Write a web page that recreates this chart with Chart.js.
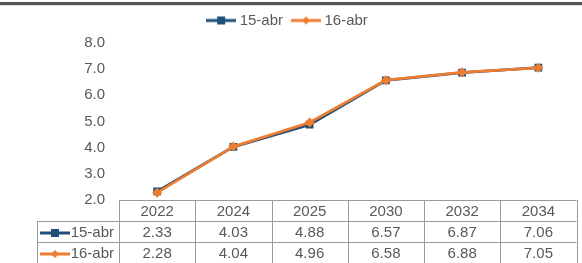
<!DOCTYPE html>
<html lang="es">
<head>
<meta charset="UTF-8">
<title>15-abr vs 16-abr</title>
<script src="https://cdn.jsdelivr.net/npm/chart.js@4.4.1/dist/chart.umd.min.js"></script>
<style>
    html, body { margin: 0; padding: 0; background: #fff; }
    #wrap { position: relative; width: 582px; height: 263px; overflow: hidden; }
</style>
</head>
<body>
<div id="wrap"><canvas id="chart" width="582" height="263"></canvas></div>
<script>
// datos
const years = ['2022', '2024', '2025', '2030', '2032', '2034'];
const abr15 = [2.33, 4.03, 4.88, 6.57, 6.87, 7.06];
const abr16 = [2.28, 4.04, 4.96, 6.58, 6.88, 7.05];
const seriesNames = ['15-abr', '16-abr'];
const yMin = 2, yMax = 8, yStep = 1;

const BLUE = '#1F4E79';
const ORANGE = '#ED7D31';
const TEXT = '#595959';
const FONT = '"Liberation Sans", Arial, sans-serif';

// icono linea + marcador (leyenda y tabla)
function makeIcon(color, style) {
    const c = document.createElement('canvas');
    c.width = 30; c.height = 10;
    const g = c.getContext('2d');
    g.strokeStyle = color;
    g.lineWidth = 3;
    g.beginPath(); g.moveTo(0, 5); g.lineTo(30, 5); g.stroke();
    g.fillStyle = color;
    if (style === 'rect') {
        g.fillRect(11, 1, 8, 8);
    } else {
        g.beginPath();
        g.moveTo(15, 1); g.lineTo(19, 5); g.lineTo(15, 9); g.lineTo(11, 5);
        g.closePath(); g.fill();
    }
    return c;
}
const icons = [makeIcon(BLUE, 'rect'), makeIcon(ORANGE, 'rectRot')];

// barra superior
const topBar = {
    id: 'topBar',
    beforeDraw(chart) {
        const ctx = chart.ctx;
        ctx.save();
        ctx.fillStyle = '#555555';
        ctx.fillRect(0, 2, chart.width, 3);
        ctx.fillStyle = '#dcdcdc';
        ctx.fillRect(0, 5, chart.width, 1);
        ctx.restore();
    }
};

// mas espacio bajo la leyenda
const legendGap = {
    id: 'legendGap',
    beforeInit(chart) {
        const fit = chart.legend.fit;
        chart.legend.fit = function () {
            fit.bind(chart.legend)();
            this.height += 5;
        };
    }
};

// tabla de datos bajo el grafico
const dataTable = {
    id: 'dataTable',
    afterDraw(chart) {
        const ctx = chart.ctx;
        const x = chart.scales.x;
        const step = x.getPixelForValue(1) - x.getPixelForValue(0);
        const left = x.getPixelForValue(0) - step / 2;
        const right = x.getPixelForValue(years.length - 1) + step / 2;
        const top = chart.chartArea.bottom;
        const rowH = 21;
        const labelLeft = 37;
        const bottom = chart.height;
        const rows = [abr15, abr16];

        ctx.save();
        ctx.strokeStyle = '#9a9a9a';
        ctx.lineWidth = 1;
        ctx.beginPath();
        ctx.moveTo(left, top + 0.5); ctx.lineTo(right, top + 0.5);
        for (let r = 1; r <= rows.length; r++) {
            const yy = Math.round(top + r * rowH) + 0.5;
            ctx.moveTo(labelLeft, yy); ctx.lineTo(right, yy);
        }
        for (let i = 0; i <= years.length; i++) {
            const xx = Math.round(left + i * step) + 0.5;
            ctx.moveTo(xx, top); ctx.lineTo(xx, bottom);
        }
        ctx.moveTo(labelLeft + 0.5, top + rowH); ctx.lineTo(labelLeft + 0.5, bottom);
        ctx.stroke();

        ctx.fillStyle = TEXT;
        ctx.font = '15px ' + FONT;
        ctx.textAlign = 'center';
        ctx.textBaseline = 'middle';
        years.forEach((y, i) => {
            ctx.fillText(y, x.getPixelForValue(i), top + rowH / 2 + 1);
        });
        rows.forEach((vals, r) => {
            const cy = top + rowH * (r + 1) + rowH / 2 + 1;
            vals.forEach((v, i) => {
                ctx.fillText(v.toFixed(2), x.getPixelForValue(i), cy);
            });
            ctx.drawImage(icons[r], labelLeft + 3, Math.round(cy - 5));
            ctx.textAlign = 'right';
            ctx.fillText(seriesNames[r], left - 5, cy);
            ctx.textAlign = 'center';
        });
        ctx.restore();
    }
};

new Chart(document.getElementById('chart'), {
    type: 'line',
    data: {
        labels: years,
        datasets: [{
            label: seriesNames[0],
            data: abr15,
            borderColor: BLUE,
            backgroundColor: BLUE,
            borderWidth: 2.75,
            pointStyle: 'rect',
            pointRadius: 5.5,
            pointHoverRadius: 5.5,
            pointBorderWidth: 0,
            order: 1
        }, {
            label: seriesNames[1],
            data: abr16,
            borderColor: ORANGE,
            backgroundColor: ORANGE,
            borderWidth: 2.75,
            pointStyle: 'rectRot',
            pointRadius: 5,
            pointHoverRadius: 5,
            pointBorderWidth: 0,
            order: 0
        }]
    },
    options: {
        responsive: false,
        animation: false,
        layout: { padding: { top: 1, right: 4, bottom: 63, left: 0 } },
        plugins: {
            tooltip: { enabled: false },
            legend: {
                position: 'top',
                align: 'center',
                labels: {
                    usePointStyle: true,
                    pointStyleWidth: 22,
                    padding: 12,
                    color: TEXT,
                    font: { family: FONT, size: 15 },
                    sort: (a, b) => a.datasetIndex - b.datasetIndex,
                    generateLabels(chart) {
                        const items = Chart.defaults.plugins.legend.labels.generateLabels(chart);
                        items.forEach(it => { it.pointStyle = icons[it.datasetIndex]; });
                        return items;
                    }
                }
            }
        },
        scales: {
            x: {
                type: 'category',
                offset: true,
                display: false
            },
            y: {
                min: yMin,
                max: yMax,
                border: { display: false },
                grid: { display: false, drawTicks: false },
                ticks: {
                    stepSize: yStep,
                    padding: 14,
                    color: TEXT,
                    font: { family: FONT, size: 15 },
                    callback: v => v.toFixed(1)
                },
                afterFit(scale) { scale.width = 119; }
            }
        }
    },
    plugins: [topBar, legendGap, dataTable]
});
</script>
</body>
</html>
